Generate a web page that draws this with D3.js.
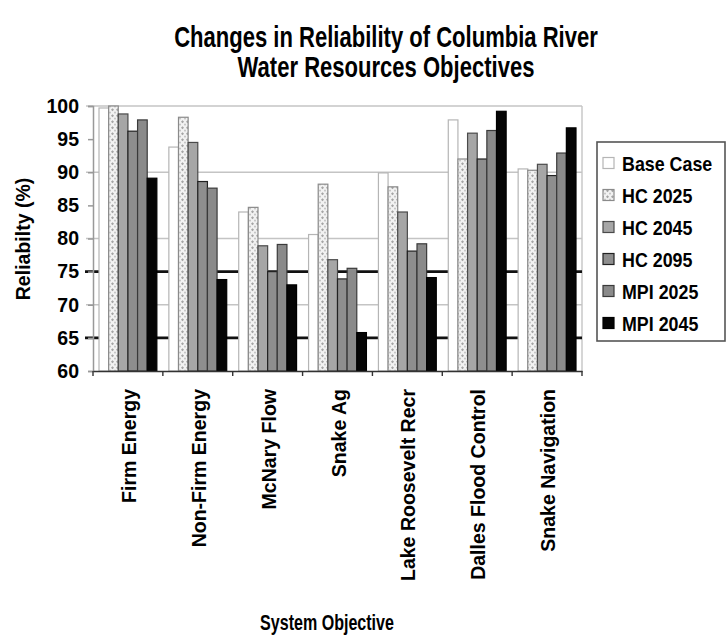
<!DOCTYPE html>
<html>
<head>
<meta charset="utf-8">
<script src="https://cdn.jsdelivr.net/npm/d3@7"></script>
<style>
  html, body { margin: 0; padding: 0; background: #fff; }
  svg { display: block; }
  text { font-family: "Liberation Sans", Arial, sans-serif; fill: #000; }
</style>
</head>
<body>
<svg id="chart" width="726" height="639"></svg>
<script>
// ---------- data ----------
const categories = ["Firm Energy", "Non-Firm Energy", "McNary Flow", "Snake Ag",
  "Lake Roosevelt Recr", "Dalles Flood Control", "Snake Navigation"];
const seriesNames = ["Base Case", "HC 2025", "HC 2045", "HC 2095", "MPI 2025", "MPI 2045"];
const baseCase = [99.7, 93.8, 84.0, 80.6, 89.9, 97.9, 90.5];
const hc2025   = [100.0, 98.3, 84.7, 88.2, 87.8, 92.0, 90.3];
const hc2045   = [98.8, 94.5, 78.9, 76.8, 84.0, 95.9, 91.2];
const hc2095   = [96.2, 88.6, 75.0, 73.9, 78.1, 92.0, 89.5];
const mpi2025  = [97.9, 87.6, 79.1, 75.5, 79.2, 96.3, 92.9];
const mpi2045  = [89.1, 73.8, 73.0, 65.8, 74.1, 99.2, 96.7];
const yTicks = [60, 65, 70, 75, 80, 85, 90, 95, 100];
const gridGray = [70, 80, 90, 100];
const gridDark = [65, 75];
const titleLines = ["Changes in Reliability of Columbia River", "Water Resources Objectives"];
const xTitle = "System Objective";
const yTitle = "Reliabilty (%)";

const seriesValues = [baseCase, hc2025, hc2045, hc2095, mpi2025, mpi2045];

// ---------- styles ----------
const fills   = ["#ffffff", "url(#hcpat)", "#a6a6a6", "#8e8e8e", "#8a8a8a", "#050505"];
const strokes = ["#b5b5b5", "#8a8a8a", "#4a4a4a", "#222222", "#3a3a3a", "#000000"];

const svg = d3.select("#chart");
const defs = svg.append("defs");
const pat = defs.append("pattern").attr("id", "hcpat")
  .attr("patternUnits", "userSpaceOnUse").attr("width", 5).attr("height", 6);
pat.append("rect").attr("width", 5).attr("height", 6).attr("fill", "#f2f2f2");
pat.append("path").attr("d", "M2.5,0.3 L4,1.8 L2.5,3.3 L1,1.8 Z").attr("fill", "#a4a4a4");
pat.append("path").attr("d", "M0,3.3 L1,4.6 L0,5.9 Z M5,3.3 L4,4.6 L5,5.9 Z").attr("fill", "#bdbdbd");

// ---------- scales ----------
const x = d3.scaleBand().domain(categories).range([93, 582]).paddingInner(0).paddingOuter(0);
const xInner = d3.scaleBand().domain(seriesNames).range([6, x.bandwidth() - 6]);
const y = d3.scaleLinear().domain([60, 100]).range([371, 106]);

// ---------- plot frame + gridlines ----------
svg.append("line").attr("x1", x.range()[1]).attr("x2", x.range()[1])
  .attr("y1", y(100)).attr("y2", y(60)).attr("stroke", "#c8c8c8").attr("stroke-width", 1.5);

svg.append("g").selectAll("line").data(gridGray).join("line")
  .attr("x1", 86).attr("x2", 582).attr("y1", d => y(d)).attr("y2", d => y(d))
  .attr("stroke", "#c4c4c4").attr("stroke-width", 1.6);
svg.append("g").selectAll("line").data(gridDark).join("line")
  .attr("x1", 85).attr("x2", 582).attr("y1", d => y(d)).attr("y2", d => y(d))
  .attr("stroke", "#111").attr("stroke-width", 2.6);

// ---------- bars ----------
const rows = [];
categories.forEach((c, i) => seriesNames.forEach((s, j) => rows.push({ c, s, j, v: seriesValues[j][i] })));
svg.append("g").selectAll("rect").data(rows).join("rect")
  .attr("x", d => x(d.c) + xInner(d.s))
  .attr("y", d => y(d.v))
  .attr("width", xInner.bandwidth())
  .attr("height", d => y(60) - y(d.v))
  .attr("fill", d => fills[d.j])
  .attr("stroke", d => strokes[d.j])
  .attr("stroke-width", 1.2);

// ---------- axes ----------
const yAxis = svg.append("g").attr("transform", "translate(93,0)")
  .call(d3.axisLeft(y).tickValues(yTicks).tickSize(5).tickPadding(10).tickFormat(d3.format("d")));
yAxis.select(".domain").attr("stroke", "#999").attr("stroke-width", 1.5);
yAxis.selectAll(".tick line").attr("stroke", "#999").attr("stroke-width", 1.5);
yAxis.selectAll(".tick text").attr("font-family", "Liberation Sans, Arial, sans-serif")
  .attr("font-size", 19.5).attr("font-weight", "bold").attr("fill", "#000").attr("x", -14);

const xAxis = svg.append("g").attr("transform", `translate(0,${y(60)})`)
  .call(d3.axisBottom(x).tickSize(0).tickFormat(""));
xAxis.select(".domain").attr("stroke", "#333").attr("stroke-width", 1.6);
svg.append("g").selectAll("line").data(categories.concat(["__end"])).join("line")
  .attr("x1", (d, i) => x.range()[0] + i * x.bandwidth())
  .attr("x2", (d, i) => x.range()[0] + i * x.bandwidth())
  .attr("y1", y(60)).attr("y2", y(60) + 5)
  .attr("stroke", "#333").attr("stroke-width", 1.4);

// category labels (rotated, slightly condensed)
svg.append("g").selectAll("text").data(categories).join("text")
  .attr("transform", d => `translate(${x(d) + x.bandwidth() / 2 + 8},389) rotate(-90) scale(0.93,1)`)
  .attr("text-anchor", "end")
  .attr("font-size", 21).attr("font-weight", "bold")
  .text(d => d);

// ---------- titles (condensed via horizontal scale) ----------
svg.append("g").selectAll("text").data(titleLines).join("text")
  .attr("transform", (d, i) => `translate(386,${47 + i * 30}) scale(0.76,1)`)
  .attr("text-anchor", "middle").attr("font-size", 29).attr("font-weight", "bold")
  .text(d => d);

svg.append("text").attr("transform", "translate(327,630) scale(0.73,1)").attr("text-anchor", "middle")
  .attr("font-size", 22).attr("font-weight", "bold").text(xTitle);

svg.append("text").attr("transform", "translate(30,239) rotate(-90)")
  .attr("text-anchor", "middle").attr("font-size", 19.5).attr("font-weight", "bold").text(yTitle);

// ---------- legend ----------
const lg = svg.append("g");
lg.append("rect").attr("x", 597).attr("y", 142).attr("width", 128).attr("height", 199)
  .attr("fill", "#fff").attr("stroke", "#555").attr("stroke-width", 1.6);
const li = lg.selectAll("g.item").data(seriesNames).join("g").attr("class", "item")
  .attr("transform", (d, i) => `translate(0,${163 + i * 32})`);
li.append("rect").attr("x", 603).attr("y", -5.5).attr("width", 11).attr("height", 11)
  .attr("fill", (d, i) => fills[i]).attr("stroke", (d, i) => strokes[i]).attr("stroke-width", 1.2);
li.append("text").attr("transform", "translate(622,0) scale(0.85,1)").attr("dy", "0.36em")
  .attr("font-size", 21).attr("font-weight", "bold").text(d => d);
</script>
</body>
</html>
